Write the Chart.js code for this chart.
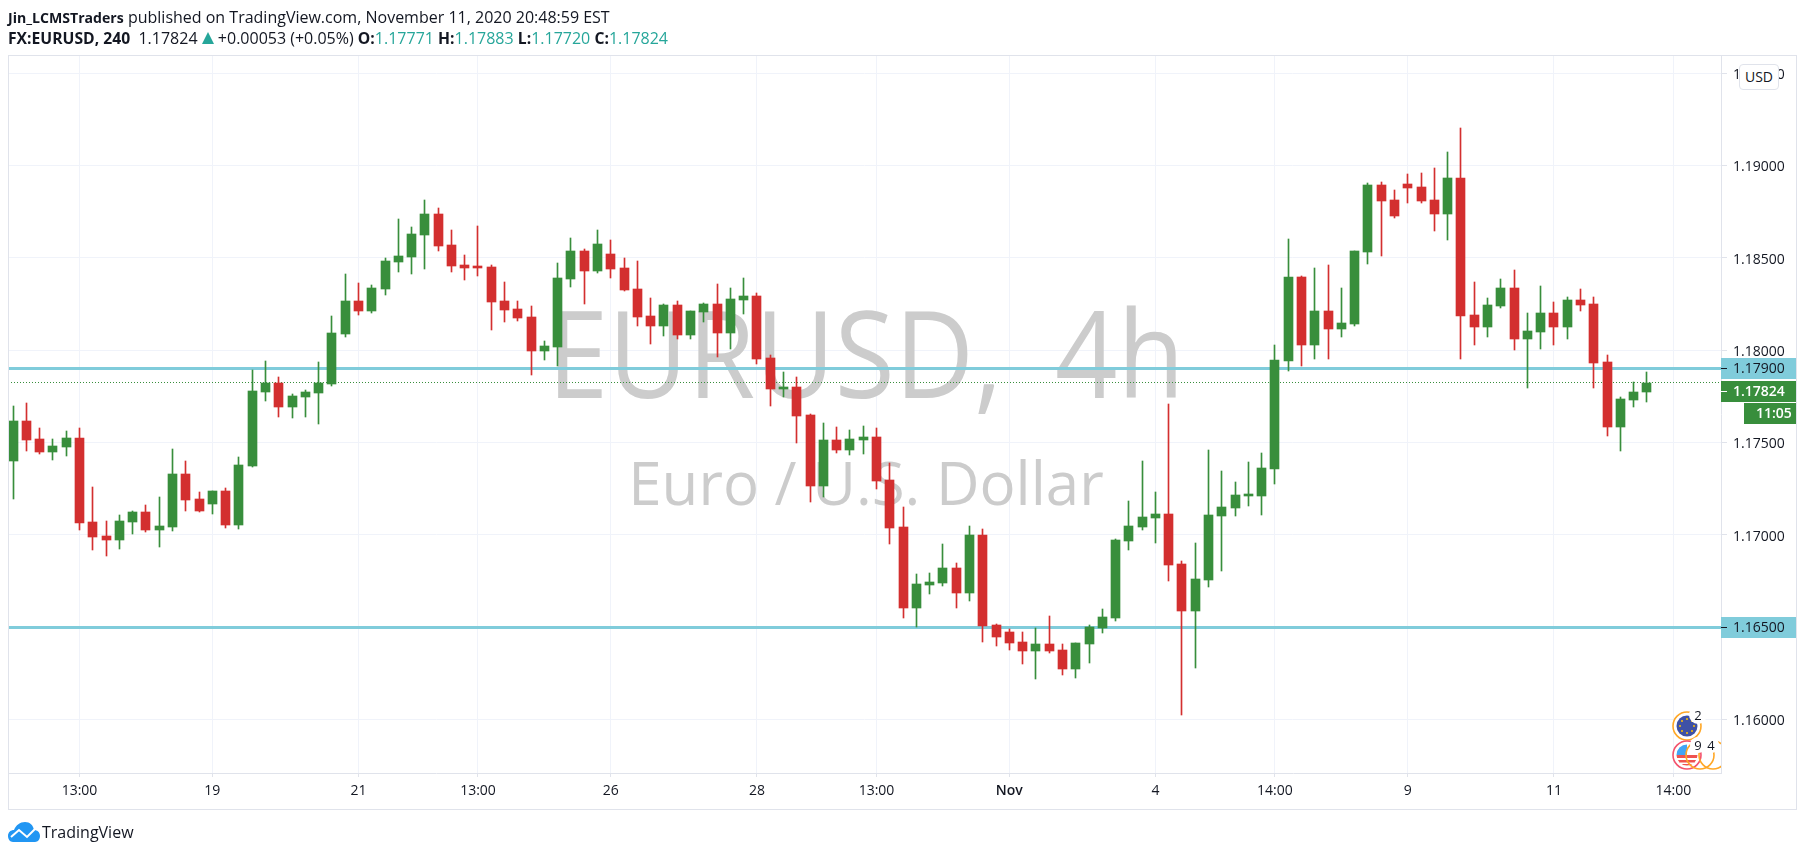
<!DOCTYPE html>
<html>
<head>
<meta charset="utf-8">
<title>FX:EURUSD, 240</title>
<script src="https://cdn.jsdelivr.net/npm/chart.js@4/dist/chart.umd.min.js"></script>
<style>
  html, body { margin: 0; padding: 0; background: #fff; }
  body { width: 1805px; height: 856px; position: relative; overflow: hidden; font-family: "Open Sans", sans-serif; color: #131722; }
  #grafico { position: absolute; left: 0; top: 0; }
  .cabecalho { position: absolute; left: 8px; white-space: nowrap; font-size: 16px; line-height: 20px; }
  #linha1 { top: 7px; }
  #linha1 b { font-size: 14.1px; }
  #linha2 { top: 28px; }
  #linha2 b { font-size: 15.7px; }
  .cabecalho b { font-weight: 700; }
  .cabecalho .valor { color: #26a69a; }
  #moldura { position: absolute; left: 8px; top: 55px; width: 1787px; height: 753px; border: 1px solid #e0e3eb; pointer-events: none; }
  #moeda { position: absolute; left: 1739px; top: 64px; width: 38px; height: 24px; line-height: 24px; text-align: center; background: #fff; border: 1px solid #e0e3eb; border-radius: 4px; font-size: 14px; }
  #icones { position: absolute; left: 1665px; top: 700px; }
  #logo { position: absolute; left: 8px; top: 822px; }
  #marca { position: absolute; left: 42px; top: 820px; font-size: 16px; line-height: 24px; }
</style>
</head>
<body>
<canvas id="grafico" width="1805" height="856"></canvas>
<div id="moldura"></div>
<div class="cabecalho" id="linha1"><b>Jin_LCMSTraders</b> published on TradingView.com, November 11, 2020 20:48:59 EST</div>
<div class="cabecalho" id="linha2"><b>FX:EURUSD, 240</b>&nbsp; 1.17824 <svg width="12" height="12" viewBox="0 0 12 12" style="vertical-align:0"><path d="M6 0 L12 12 L0 12 Z" fill="#26a69a"/></svg> +0.00053 (+0.05%) <b>O:</b><span class="valor">1.17771</span> <b>H:</b><span class="valor">1.17883</span> <b>L:</b><span class="valor">1.17720</span> <b>C:</b><span class="valor">1.17824</span></div>
<div id="moeda">USD</div>
<svg id="icones" width="56" height="75" viewBox="0 0 56 75" font-family="Open Sans" font-size="13" fill="#131722">
  <circle cx="22" cy="26" r="14" fill="#fff" stroke="#ffa726" stroke-width="1.6"/>
  <circle cx="22" cy="26" r="10.5" fill="#3f51a5"/>
  <g fill="#ffc107">
    <circle cx="22" cy="19" r="1"/><circle cx="27" cy="21" r="1"/><circle cx="29" cy="26" r="1"/><circle cx="27" cy="31" r="1"/>
    <circle cx="22" cy="33" r="1"/><circle cx="17" cy="31" r="1"/><circle cx="15" cy="26" r="1"/><circle cx="17" cy="21" r="1"/>
  </g>
  <circle cx="33" cy="15" r="9" fill="#fff"/>
  <text x="33" y="19.5" text-anchor="middle">2</text>
  <circle cx="22" cy="55" r="14" fill="#fff" stroke="#f4516c" stroke-width="1.6"/>
  <path d="M11.5 55 A10.5 10.5 0 0 0 32.5 55 Z" fill="#ef5350"/>
  <path d="M12 58 H32 V60 H12 Z M15 62.5 H29 V64 H15 Z" fill="#fff"/>
  <path d="M11.5 55 A10.5 10.5 0 0 1 22 44.5 V55 Z" fill="#42a5f5"/>
  <circle cx="35" cy="55" r="14" fill="none" stroke="#ffa726" stroke-width="1.6"/>
  <circle cx="48" cy="55" r="14" fill="none" stroke="#ffa726" stroke-width="1.6"/>
  <circle cx="33" cy="45" r="8" fill="#fff"/>
  <circle cx="46" cy="45" r="8" fill="#fff"/>
  <text x="33" y="49.5" text-anchor="middle">9</text>
  <text x="46" y="49.5" text-anchor="middle">4</text>
</svg>
<svg id="logo" width="32" height="20" viewBox="0 0 32 20">
  <path d="M0 14 C0 10 3 8 6 8 C8 3 12 0 17 0 C22 0 25 3 26 8 C29 8 32 10 32 14 C32 17 30 20 27 20 L5 20 C2 20 0 17 0 14 Z" fill="#2196f3"/>
  <path d="M3 15 L11 8 L19 15 L27 7" fill="none" stroke="#fff" stroke-width="2"/>
</svg>
<div id="marca">TradingView</div>

<script>
// candles de 4h, um valor por barra
const abertura = [
  1.17401, 1.17617, 1.17519, 1.17448, 1.17475, 1.17524, 1.17069, 1.16993, 1.16971, 1.17069,
  1.17123, 1.17025, 1.17041, 1.17329, 1.17193, 1.17166, 1.17237, 1.17052, 1.17372, 1.17774,
  1.17823, 1.17693, 1.17747, 1.17769, 1.17818, 1.18088, 1.18267, 1.18213, 1.18332, 1.18478,
  1.18505, 1.18625, 1.18738, 1.18570, 1.18462, 1.18451, 1.18451, 1.18267, 1.18224, 1.18181,
  1.17996, 1.18018, 1.18386, 1.18538, 1.18430, 1.18522, 1.18446, 1.18332, 1.18186, 1.18132,
  1.18245, 1.18083, 1.18208, 1.18251, 1.18094, 1.18273, 1.18294, 1.17958, 1.17790, 1.17801,
  1.17650, 1.17265, 1.17514, 1.17460, 1.17514, 1.17530, 1.17297, 1.17042, 1.16603, 1.16728,
  1.16739, 1.16820, 1.16685, 1.16999, 1.16511, 1.16473, 1.16419, 1.16370, 1.16408, 1.16376,
  1.16273, 1.16408, 1.16495, 1.16549, 1.16967, 1.17042, 1.17091, 1.17113, 1.16842, 1.16587,
  1.16755, 1.17102, 1.17145, 1.17210, 1.17210, 1.17356, 1.17940, 1.18395, 1.18027, 1.18211,
  1.18114, 1.18141, 1.18531, 1.18894, 1.18812, 1.18899, 1.18883, 1.18812, 1.18736, 1.18931,
  1.18190, 1.18125, 1.18238, 1.18336, 1.18060, 1.18097, 1.18200, 1.18125, 1.18271, 1.18249,
  1.17935, 1.17583, 1.17729, 1.17771
];
const maxima = [
  1.17698, 1.17714, 1.17579, 1.17519, 1.17562, 1.17579, 1.17258, 1.17074, 1.17107, 1.17128,
  1.17161, 1.17204, 1.17465, 1.17400, 1.17231, 1.17237, 1.17253, 1.17421, 1.17893, 1.17942,
  1.17855, 1.17763, 1.17785, 1.17937, 1.18186, 1.18413, 1.18365, 1.18354, 1.18500, 1.18711,
  1.18668, 1.18814, 1.18771, 1.18652, 1.18516, 1.18673, 1.18462, 1.18370, 1.18267, 1.18240,
  1.18051, 1.18473, 1.18608, 1.18549, 1.18652, 1.18597, 1.18500, 1.18484, 1.18283, 1.18251,
  1.18267, 1.18213, 1.18256, 1.18359, 1.18338, 1.18392, 1.18310, 1.17975, 1.17883, 1.17855,
  1.17655, 1.17606, 1.17584, 1.17568, 1.17590, 1.17579, 1.17389, 1.17151, 1.16788, 1.16793,
  1.16950, 1.16847, 1.17048, 1.17032, 1.16517, 1.16490, 1.16473, 1.16495, 1.16560, 1.16408,
  1.16414, 1.16511, 1.16598, 1.16977, 1.17183, 1.17400, 1.17232, 1.17709, 1.16858, 1.16956,
  1.17460, 1.17346, 1.17286, 1.17395, 1.17442, 1.18027, 1.18601, 1.18401, 1.18444, 1.18460,
  1.18336, 1.18536, 1.18904, 1.18910, 1.18866, 1.18953, 1.18958, 1.18986, 1.19072, 1.19202,
  1.18368, 1.18282, 1.18384, 1.18433, 1.18200, 1.18347, 1.18260, 1.18287, 1.18330, 1.18287,
  1.17973, 1.17746, 1.17827, 1.17883
];
const minimas = [
  1.17193, 1.17454, 1.17437, 1.17405, 1.17427, 1.17025, 1.16917, 1.16884, 1.16922, 1.17003,
  1.17014, 1.16933, 1.17020, 1.17128, 1.17123, 1.17112, 1.17036, 1.17031, 1.17367, 1.17725,
  1.17638, 1.17633, 1.17639, 1.17601, 1.17807, 1.18072, 1.18191, 1.18202, 1.18300, 1.18424,
  1.18413, 1.18440, 1.18538, 1.18424, 1.18381, 1.18403, 1.18110, 1.18153, 1.18159, 1.17866,
  1.17948, 1.17915, 1.18343, 1.18251, 1.18419, 1.18392, 1.18321, 1.18132, 1.18034, 1.18078,
  1.18061, 1.18061, 1.18153, 1.17964, 1.18007, 1.18197, 1.17926, 1.17698, 1.17747, 1.17498,
  1.17178, 1.17205, 1.17444, 1.17433, 1.17438, 1.17248, 1.16950, 1.16549, 1.16500, 1.16679,
  1.16723, 1.16603, 1.16641, 1.16419, 1.16397, 1.16376, 1.16300, 1.16219, 1.16360, 1.16240,
  1.16224, 1.16305, 1.16468, 1.16533, 1.16918, 1.17026, 1.16956, 1.16750, 1.16023, 1.16278,
  1.16717, 1.16804, 1.17102, 1.17156, 1.17108, 1.17274, 1.17886, 1.17913, 1.17951, 1.17951,
  1.18070, 1.18130, 1.18466, 1.18509, 1.18715, 1.18796, 1.18796, 1.18644, 1.18596, 1.17951,
  1.18027, 1.18070, 1.18227, 1.18000, 1.17794, 1.18005, 1.18027, 1.18060, 1.18211, 1.17794,
  1.17534, 1.17453, 1.17691, 1.17720
];
const fechamento = [
  1.17617, 1.17513, 1.17448, 1.17481, 1.17524, 1.17063, 1.16987, 1.16971, 1.17074, 1.17123,
  1.17025, 1.17047, 1.17329, 1.17188, 1.17128, 1.17237, 1.17052, 1.17378, 1.17779, 1.17823,
  1.17693, 1.17752, 1.17774, 1.17823, 1.18094, 1.18267, 1.18213, 1.18338, 1.18484, 1.18511,
  1.18630, 1.18738, 1.18565, 1.18457, 1.18446, 1.18446, 1.18262, 1.18218, 1.18175, 1.17996,
  1.18023, 1.18392, 1.18538, 1.18430, 1.18576, 1.18440, 1.18327, 1.18181, 1.18132, 1.18245,
  1.18083, 1.18213, 1.18251, 1.18094, 1.18278, 1.18294, 1.17953, 1.17790, 1.17801, 1.17644,
  1.17265, 1.17514, 1.17460, 1.17519, 1.17530, 1.17292, 1.17037, 1.16603, 1.16734, 1.16744,
  1.16820, 1.16685, 1.16999, 1.16506, 1.16446, 1.16414, 1.16370, 1.16408, 1.16370, 1.16273,
  1.16414, 1.16500, 1.16555, 1.16972, 1.17048, 1.17097, 1.17113, 1.16836, 1.16587, 1.16761,
  1.17107, 1.17151, 1.17216, 1.17216, 1.17362, 1.17946, 1.18395, 1.18027, 1.18211, 1.18114,
  1.18146, 1.18536, 1.18894, 1.18807, 1.18726, 1.18877, 1.18807, 1.18736, 1.18931, 1.18184,
  1.18125, 1.18244, 1.18336, 1.18060, 1.18103, 1.18200, 1.18125, 1.18271, 1.18244, 1.17930,
  1.17583, 1.17735, 1.17773, 1.17824
];

// eixos
const posicoesX = [5, 15, 26, 35, 45, 56, 65, 75, 86, 95, 105, 116, 125];
const rotulosX = ['13:00', '19', '21', '13:00', '26', '28', '13:00', 'Nov', '4', '14:00', '9', '11', '14:00'];
const ticksY = [1.16, 1.165, 1.17, 1.175, 1.18, 1.185, 1.19, 1.195];

// linhas horizontais e preco atual
const niveis = [1.179, 1.165];
const precoAtual = 1.17824;
const contagem = '11:05';
const marcaLinha1 = 'EURUSD, 4h';
const marcaLinha2 = 'Euro / U.S. Dollar';

const VERDE = '#388e3c';
const VERMELHO = '#d32f2f';
const AZUL = '#80ccdb';
const GRADE = '#f0f3fa';
const BORDA = '#e0e3eb';
const TEXTO = '#131722';
const FONTE = '"Open Sans", sans-serif';

const xMin = -0.383;
const xMax = 128.58;

let cores = abertura.map((v, i) => fechamento[i] >= v ? VERDE : VERMELHO);
let dadosPavio = maxima.map((v, i) => ({ x: i, y: [minimas[i], v] }));
let dadosCorpo = abertura.map((v, i) => ({ x: i, y: [v, fechamento[i]] }));

// deixa barras e linhas em pixel inteiro, senao o canvas borra o pavio de 1px
const alinhar = {
  id: 'alinhar',
  beforeDatasetsDraw(chart) {
    chart.getSortedVisibleDatasetMetas().forEach(meta => {
      meta.data.forEach(el => {
        if (meta.type === 'bar') {
          el.x = Math.round(el.x - 0.5) + 0.5;
          el.y = Math.round(el.y);
          el.base = Math.round(el.base);
        } else {
          el.y = Math.round(el.y - 0.5) + 0.5;
        }
      });
    });
  }
};

// marca d'agua atras dos candles
const marcaDagua = {
  id: 'marcaDagua',
  beforeDatasetsDraw(chart) {
    const c = chart.ctx;
    c.save();
    c.fillStyle = '#cccccc';
    c.textAlign = 'center';
    c.textBaseline = 'alphabetic';
    c.font = '60px ' + FONTE;
    c.fillText(marcaLinha2, 866, 505);
    // a fonte original e mais estreita
    c.translate(866, 398);
    c.scale(0.91, 1);
    c.font = '120px ' + FONTE;
    c.wordSpacing = '27px';
    c.fillText(marcaLinha1, 0, 0);
    c.restore();
  }
};

function etiqueta(c, x, y, largura, altura, fundo, corTexto, texto, negrito) {
  c.fillStyle = fundo;
  c.fillRect(x, y, largura, altura);
  c.fillStyle = corTexto;
  c.font = (negrito ? '600 ' : '') + '14px ' + FONTE;
  c.textBaseline = 'middle';
  c.fillText(texto, x + 12, y + altura / 2 + 1);
}

// etiquetas de preco por cima do eixo
const etiquetas = {
  id: 'etiquetas',
  afterDraw(chart) {
    const c = chart.ctx;
    const y = chart.scales.y;
    const dir = chart.chartArea.right;
    c.save();
    c.textAlign = 'left';
    niveis.forEach(n => {
      const py = Math.round(y.getPixelForValue(n) - 0.5);
      etiqueta(c, dir, py - 10, 75, 21, AZUL, TEXTO, n.toFixed(5), false);
      c.fillStyle = TEXTO;
      c.fillRect(dir, py, 6, 1);
    });
    // o preco atual desce um pouco para nao cobrir a etiqueta de 1.17900
    const pa = Math.round(y.getPixelForValue(precoAtual) - 0.5) + 9;
    etiqueta(c, dir, pa - 10, 75, 21, VERDE, '#ffffff', precoAtual.toFixed(5), true);
    c.fillStyle = '#ffffff';
    c.fillRect(dir, pa, 6, 1);
    etiqueta(c, dir + 23, pa + 12, 52, 21, VERDE, '#ffffff', contagem, true);
    c.restore();
  }
};

new Chart(document.getElementById('grafico'), {
  type: 'bar',
  data: {
    datasets: [
      { label: 'Corpo', data: dadosCorpo, backgroundColor: cores, barThickness: 9, minBarLength: 2, grouped: false, order: 0, borderWidth: 0 },
      { label: 'Pavio', data: dadosPavio, backgroundColor: cores, barThickness: 1, grouped: false, order: 1, borderWidth: 0 },
      {
        type: 'line', label: 'Atual', order: 2, borderColor: VERDE, borderWidth: 1, borderDash: [1, 2], pointRadius: 0,
        data: [{ x: xMin, y: precoAtual }, { x: xMax, y: precoAtual }]
      },
      {
        type: 'line', label: niveis[0].toFixed(5), order: 3, borderColor: AZUL, borderWidth: 3, pointRadius: 0,
        data: [{ x: xMin, y: niveis[0] }, { x: xMax, y: niveis[0] }]
      },
      {
        type: 'line', label: niveis[1].toFixed(5), order: 3, borderColor: AZUL, borderWidth: 3, pointRadius: 0,
        data: [{ x: xMin, y: niveis[1] }, { x: xMax, y: niveis[1] }]
      }
    ]
  },
  options: {
    responsive: false,
    animation: false,
    events: [],
    layout: { padding: { left: 8, top: 55, right: 9, bottom: 47 } },
    plugins: { legend: { display: false }, tooltip: { enabled: false }, title: { display: false } },
    scales: {
      x: {
        type: 'linear',
        offset: false,
        min: xMin,
        max: xMax,
        grid: { color: GRADE, tickColor: BORDA, tickLength: 4, offset: false },
        border: { color: BORDA },
        afterBuildTicks: scale => { scale.ticks = posicoesX.map(v => ({ value: v })); },
        afterFit: scale => { scale.height = 36; },
        ticks: {
          autoSkip: false,
          maxRotation: 0,
          padding: 6,
          color: TEXTO,
          font: ctx => ({ family: FONTE, size: 14, weight: ctx.index === 7 ? '600' : '400' }),
          callback: (v, i) => rotulosX[i]
        }
      },
      y: {
        type: 'linear',
        position: 'right',
        min: 1.1571,
        max: 1.19598,
        grid: { color: GRADE, tickColor: BORDA, tickLength: 6 },
        border: { color: BORDA },
        afterBuildTicks: scale => { scale.ticks = ticksY.map(v => ({ value: v })); },
        afterFit: scale => { scale.width = 75; },
        ticks: {
          padding: 6,
          labelOffset: 2,
          color: TEXTO,
          font: { family: FONTE, size: 14 },
          callback: v => v.toFixed(5)
        }
      }
    }
  },
  plugins: [alinhar, marcaDagua, etiquetas]
});
</script>
</body>
</html>
